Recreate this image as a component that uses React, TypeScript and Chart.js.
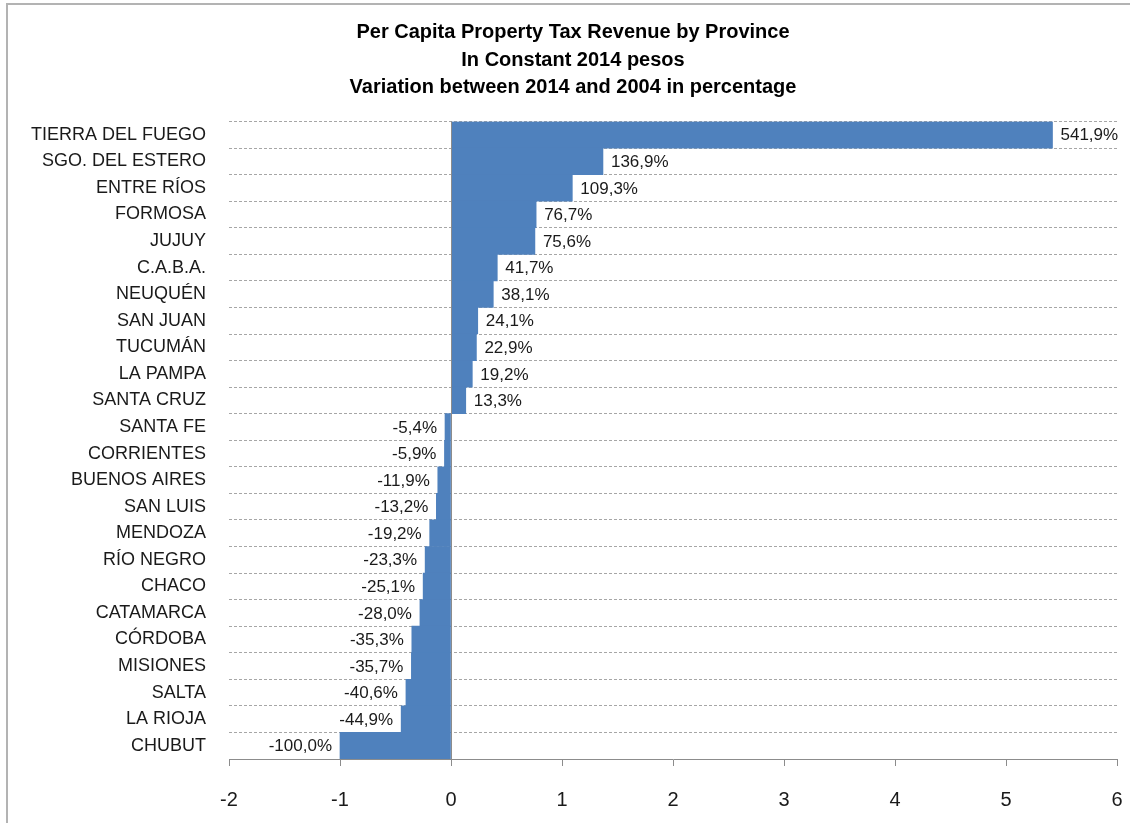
import React, { useEffect, useRef } from "react";
import { Chart, registerables } from "chart.js";

Chart.register(...registerables);

const provinces = [
  "TIERRA DEL FUEGO", "SGO. DEL ESTERO", "ENTRE RÍOS", "FORMOSA", "JUJUY", "C.A.B.A.",
  "NEUQUÉN", "SAN JUAN", "TUCUMÁN", "LA PAMPA", "SANTA CRUZ", "SANTA FE", "CORRIENTES",
  "BUENOS AIRES", "SAN LUIS", "MENDOZA", "RÍO NEGRO", "CHACO", "CATAMARCA", "CÓRDOBA",
  "MISIONES", "SALTA", "LA RIOJA", "CHUBUT",
];

const variation = [
  5.419, 1.369, 1.093, 0.767, 0.756, 0.417, 0.381, 0.241, 0.229, 0.192, 0.133, -0.054,
  -0.059, -0.119, -0.132, -0.192, -0.233, -0.251, -0.28, -0.353, -0.357, -0.406, -0.449, -1.0,
];

const titleLines = [
  "Per Capita Property Tax Revenue by Province",
  "In Constant 2014 pesos",
  "Variation between 2014 and 2004 in percentage",
];

const xMin = -2;
const xMax = 6;

const FONT = "'Liberation Sans', Arial, sans-serif";

const fmt = (v: number) => (v * 100).toFixed(1).replace(".", ",") + "%";

const labelPlugin = {
  id: "barLabels",
  afterDatasetsDraw(chart: any) {
    const { ctx, chartArea, scales } = chart;
    const x0 = scales.x.getPixelForValue(0);
    ctx.save();
    // vertical axis line at zero
    ctx.strokeStyle = "#8c8c8c";
    ctx.lineWidth = 1;
    ctx.beginPath();
    ctx.moveTo(Math.round(x0) + 0.5, chartArea.top);
    ctx.lineTo(Math.round(x0) + 0.5, chartArea.bottom);
    ctx.stroke();

    const meta = chart.getDatasetMeta(0);
    ctx.font = `17px ${FONT}`;
    ctx.textBaseline = "middle";
    meta.data.forEach((bar: any, i: number) => {
      const v = variation[i];
      const text = fmt(v);
      const w = ctx.measureText(text).width;
      const h = 20;
      const y = bar.y;
      let tx: number;
      if (v >= 0) {
        tx = bar.x + 8;
      } else {
        tx = bar.x - 8 - w;
      }
      ctx.fillStyle = "#ffffff";
      ctx.fillRect(tx - 5, y - h / 2, w + 10, h);
      ctx.fillStyle = "#1a1a1a";
      ctx.textAlign = "left";
      ctx.fillText(text, tx, y + 1);
    });
    ctx.restore();
  },
};

export default function App() {
  const ref = useRef<HTMLCanvasElement | null>(null);

  useEffect(() => {
    if (!ref.current) return;
    const chart = new Chart(ref.current, {
      type: "bar",
      data: {
        labels: provinces,
        datasets: [
          {
            data: variation,
            backgroundColor: "#4F81BD",
            borderWidth: 0,
            barPercentage: 1,
            categoryPercentage: 1,
          },
        ],
      },
      options: {
        indexAxis: "y",
        responsive: false,
        animation: false,
        layout: { padding: { left: 29, right: 13, top: 0, bottom: 14 } },
        plugins: {
          legend: { display: false },
          tooltip: { enabled: false },
          title: {
            display: true,
            text: titleLines,
            color: "#000000",
            font: { family: FONT, size: 20, weight: "bold", lineHeight: 1.375 },
            padding: { top: 19, bottom: 20 },
          },
        },
        scales: {
          x: {
            type: "linear",
            min: xMin,
            max: xMax,
            ticks: {
              stepSize: 1,
              color: "#1a1a1a",
              font: { family: FONT, size: 20 },
              padding: 22,
            },
            grid: {
              drawOnChartArea: false,
              drawTicks: true,
              tickLength: 7,
              color: "#8c8c8c",
            },
            border: { display: true, color: "#8c8c8c", width: 1 },
            afterFit: (s: any) => {
              s.height = 50;
              s.paddingLeft = 0;
              s.paddingRight = 0;
            },
          },
          y: {
            type: "category",
            ticks: {
              color: "#1a1a1a",
              font: { family: FONT, size: 18 },
              padding: 23,
              autoSkip: false,
            },
            grid: {
              display: true,
              drawTicks: false,
              offset: true,
              color: "#a6a6a6",
              lineWidth: 1,
            },
            border: { display: false, dash: [3, 2] },
            afterFit: (s: any) => {
              s.width = 200;
            },
          },
        },
      },
      plugins: [labelPlugin],
    });
    return () => chart.destroy();
  }, []);

  return (
    <div style={{ position: "absolute", left: 0, top: 0, width: 1130, height: 823, background: "#fff", overflow: "hidden" }}>
      <canvas ref={ref} width={1130} height={823} style={{ position: "absolute", left: 0, top: 0 }} />
      <div
        style={{
          position: "absolute",
          left: 6,
          top: 3,
          width: 1140,
          height: 840,
          borderLeft: "2px solid #b3b3b3",
          borderTop: "2px solid #b3b3b3",
          pointerEvents: "none",
        }}
      />
    </div>
  );
}
